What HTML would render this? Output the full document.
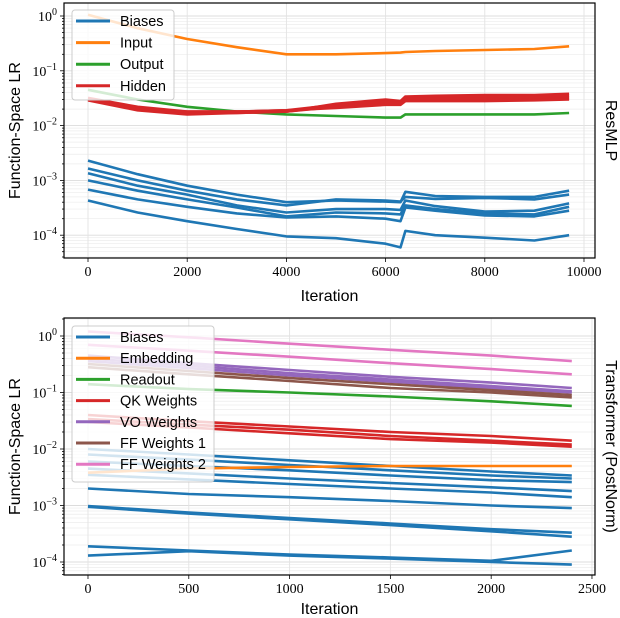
<!DOCTYPE html>
<html><head><meta charset="utf-8">
<style>
body{margin:0;background:#fff;}
svg{display:block;}
text{font-family:"Liberation Sans",sans-serif;}
.tk{font-family:"Liberation Serif",serif;font-size:14px;}
</style></head>
<body>
<svg id="chart" width="620" height="618" viewBox="0 0 620 618" xmlns="http://www.w3.org/2000/svg"></svg>
<script>
// ---- Top panel (ResMLP) data ----
const topX = [0,1000,2000,3000,4000,5000,6000,6300,6400,7000,8000,9000,9700];
const topInput = [1.05,0.6,0.38,0.27,0.2,0.2,0.21,0.215,0.22,0.23,0.24,0.25,0.28];
const topOutput = [0.045,0.03,0.022,0.018,0.016,0.015,0.014,0.014,0.016,0.016,0.016,0.016,0.017];
const topHidden = [
 [0.032,0.022,0.018,0.018,0.018,0.025,0.03,0.028,0.034,0.035,0.036,0.036,0.038],
 [0.031,0.021,0.017,0.018,0.019,0.024,0.028,0.027,0.032,0.033,0.033,0.034,0.035],
 [0.030,0.020,0.017,0.017,0.018,0.023,0.027,0.026,0.031,0.031,0.031,0.032,0.033],
 [0.029,0.019,0.016,0.017,0.018,0.022,0.025,0.025,0.029,0.029,0.029,0.030,0.031],
 [0.030,0.020,0.018,0.018,0.019,0.021,0.024,0.024,0.028,0.028,0.028,0.029,0.030]
];
const topBiases = [
 [2.3e-3,1.3e-3,8e-4,5.5e-4,4e-4,4.3e-4,4.1e-4,4e-4,6.2e-4,5.2e-4,5e-4,5e-4,6.5e-4],
 [1.65e-3,1e-3,6.5e-4,4.5e-4,3.5e-4,4.5e-4,4.3e-4,4.1e-4,5e-4,4.6e-4,4.8e-4,4.5e-4,5.5e-4],
 [1.35e-3,8e-4,5.5e-4,3.5e-4,2.6e-4,3e-4,3e-4,2.9e-4,4.3e-4,3.4e-4,2.7e-4,2.8e-4,3.8e-4],
 [1.0e-3,6.5e-4,4.5e-4,3.2e-4,2.2e-4,2.6e-4,2.5e-4,2.4e-4,3.5e-4,3e-4,2.5e-4,2.4e-4,3.3e-4],
 [6.8e-4,4.5e-4,3.3e-4,2.5e-4,2.1e-4,2.2e-4,2e-4,1.8e-4,3.2e-4,2.8e-4,2.3e-4,2.2e-4,2.8e-4],
 [4.3e-4,2.6e-4,1.8e-4,1.3e-4,9.5e-5,8.8e-5,7e-5,6e-5,1.2e-4,1e-4,9e-5,8e-5,1e-4]
];
// ---- Bottom panel (Transformer) data ----
const botX = [0,500,1000,1500,2000,2400];
const botFF2 = [[1.2,0.95,0.73,0.57,0.45,0.36],[0.7,0.55,0.43,0.33,0.26,0.21]];
const botVO = [[0.45,0.33,0.25,0.19,0.15,0.12],[0.4,0.3,0.22,0.17,0.13,0.105],[0.36,0.27,0.2,0.155,0.12,0.1]];
const botFF1 = [[0.32,0.24,0.18,0.14,0.11,0.09],[0.28,0.21,0.16,0.12,0.1,0.082]];
const botReadout = [0.14,0.115,0.1,0.085,0.07,0.058];
const botQK = [[0.04,0.031,0.025,0.02,0.017,0.014],[0.034,0.027,0.022,0.017,0.014,0.012],[0.03,0.024,0.019,0.015,0.013,0.011]];
const botEmbed = [0.0038,0.0045,0.0048,0.005,0.005,0.005];
const botBiases = [
 [0.01,0.008,0.0063,0.005,0.004,0.0034],
 [0.008,0.0065,0.0052,0.0042,0.0034,0.003],
 [0.006,0.005,0.0042,0.0034,0.0028,0.0026],
 [0.0045,0.0037,0.003,0.0025,0.0021,0.0018],
 [0.0035,0.0029,0.0024,0.002,0.0017,0.0014],
 [0.002,0.0016,0.0014,0.0012,0.001,0.0009],
 [0.00098,0.00075,0.0006,0.00048,0.00038,0.00033],
 [0.00095,0.00072,0.00057,0.00045,0.00035,0.00028],
 [0.00019,0.00016,0.000135,0.00012,0.000105,0.00016],
 [0.00013,0.000155,0.00013,0.000115,0.0001,0.00009]
];
const topXTicks = [0,2000,4000,6000,8000,10000];
const botXTicks = [0,500,1000,1500,2000,2500];
const yExps = [0,-1,-2,-3,-4];

const C = {blue:'#1f77b4',orange:'#ff7f0e',green:'#2ca02c',red:'#d62728',purple:'#9467bd',brown:'#8c564b',pink:'#e377c2'};
const NS='http://www.w3.org/2000/svg';
const svg=document.getElementById('chart');
function el(tag,attrs,parent){const e=document.createElementNS(NS,tag);for(const k in attrs)e.setAttribute(k,attrs[k]);(parent||svg).appendChild(e);return e;}

function panel(cfg){
  const g=el('g',{});
  
  
  const {L,R,T,B,y0px,decPx}=cfg;
  const xs=v=>L+(v-cfg.xmin)/(cfg.xmax-cfg.xmin)*(R-L);
  const ys=v=>y0px-Math.log10(v)*decPx;
  const grid=el('g',{},g);
  
  
  for(let e=1;e>=-5;e--){for(let m=1;m<10;m++){const y=ys(m*Math.pow(10,e));if(y<T||y>B)continue;
    el('line',{x1:L,x2:R,y1:y,y2:y,stroke:m===1?'#dcdcdc':'#ececec','stroke-width':m===1?0.9:0.7},grid);
    el('line',{x1:L,x2:L-(m===1?4:2),y1:y,y2:y,stroke:'#000','stroke-width':0.8},g);}}
  cfg.xticks.forEach(t=>{const x=xs(t);
    el('line',{x1:x,x2:x,y1:T,y2:B,stroke:'#e3e3e3','stroke-width':0.9},grid);
    el('line',{x1:x,x2:x,y1:B,y2:B+4,stroke:'#000','stroke-width':0.8},g);
    const tx=el('text',{x:x,y:B+18,'text-anchor':'middle',class:'tk'},g);tx.textContent=t;
    
    });
  yExps.forEach(e=>{const y=ys(Math.pow(10,e));
    const tx=el('text',{x:L-7,y:y+5,'text-anchor':'end',class:'tk'},g);
    tx.innerHTML='10<tspan dy="-6" font-size="10">'+(e===0?'0':'−'+(-e))+'</tspan>';
    
    });
  const clipId='clip'+cfg.name;
  const cp=el('clipPath',{id:clipId},g);el('rect',{x:L,y:T,width:R-L,height:B-T},cp);
  const sg=el('g',{'clip-path':'url(#'+clipId+')'},g);
  cfg.series.forEach(s=>{
    s.lines.forEach(arr=>{
      const d=arr.map((v,i)=>(i?'L':'M')+xs(s.x[i]).toFixed(1)+','+ys(v).toFixed(1)).join(' ');
      const p=el('path',{d:d,fill:'none',stroke:s.color,'stroke-width':2.6,'stroke-linejoin':'round'},sg);
      
      
    });
  });
  el('rect',{x:L,y:T,width:R-L,height:B-T,fill:'none',stroke:'#000','stroke-width':1.2},g);
  const lg=el('g',{},g);
  
  
  const lb=cfg.legend;
  el('rect',{x:lb.x,y:lb.y,width:lb.w,height:lb.h,rx:3,fill:'rgba(255,255,255,0.8)',stroke:'#ccc','stroke-width':1},lg);
  cfg.series.forEach((s,i)=>{const y=lb.y0+i*lb.dy;
    const en=el('g',{},lg);
    
    
    el('line',{x1:lb.x+4,x2:lb.x+38,y1:y,y2:y,stroke:s.color,'stroke-width':3},en);
    const t=el('text',{x:lb.x+48,y:y+5,'font-size':14.5},en);t.textContent=s.label;});
  const xt=el('text',{x:(L+R)/2,y:cfg.xtitleY,'text-anchor':'middle','font-size':16},g);xt.textContent='Iteration';
  
  
  const cy=(T+B)/2;
  const yt=el('text',{x:0,y:0,transform:'translate(20,'+cy+') rotate(-90)','text-anchor':'middle','font-size':16},g);yt.textContent='Function-Space LR';
  
  
  const rt=el('text',{x:0,y:0,transform:'translate(606,'+cy+') rotate(90)','text-anchor':'middle','font-size':16},g);rt.textContent=cfg.rightLabel;
  
  
}

panel({name:'resmlp-panel',L:64,R:595,T:3,B:258,xmin:-484,xmax:10222,y0px:16,decPx:54.8,
  xticks:topXTicks,xtitleY:301,rightLabel:'ResMLP',
  legend:{x:72,y:10,w:102,h:90,y0:21,dy:21.6},
  series:[
   {name:'biases',label:'Biases',color:C.blue,x:topX,lines:topBiases},
   {name:'input',label:'Input',color:C.orange,x:topX,lines:[topInput]},
   {name:'output',label:'Output',color:C.green,x:topX,lines:[topOutput]},
   {name:'hidden',label:'Hidden',color:C.red,x:topX,lines:topHidden}
  ]});
panel({name:'transformer-panel',L:64,R:595,T:318,B:575,xmin:-119,xmax:2515,y0px:336,decPx:56.5,
  xticks:botXTicks,xtitleY:614,rightLabel:'Transformer (PostNorm)',
  legend:{x:72,y:326,w:142,h:156,y0:337,dy:21.2},
  series:[
   {name:'biases',label:'Biases',color:C.blue,x:botX,lines:botBiases},
   {name:'embedding',label:'Embedding',color:C.orange,x:botX,lines:[botEmbed]},
   {name:'readout',label:'Readout',color:C.green,x:botX,lines:[botReadout]},
   {name:'qk-weights',label:'QK Weights',color:C.red,x:botX,lines:botQK},
   {name:'vo-weights',label:'VO Weights',color:C.purple,x:botX,lines:botVO},
   {name:'ff-weights-1',label:'FF Weights 1',color:C.brown,x:botX,lines:botFF1},
   {name:'ff-weights-2',label:'FF Weights 2',color:C.pink,x:botX,lines:botFF2}
  ]});
</script>
</body></html>
